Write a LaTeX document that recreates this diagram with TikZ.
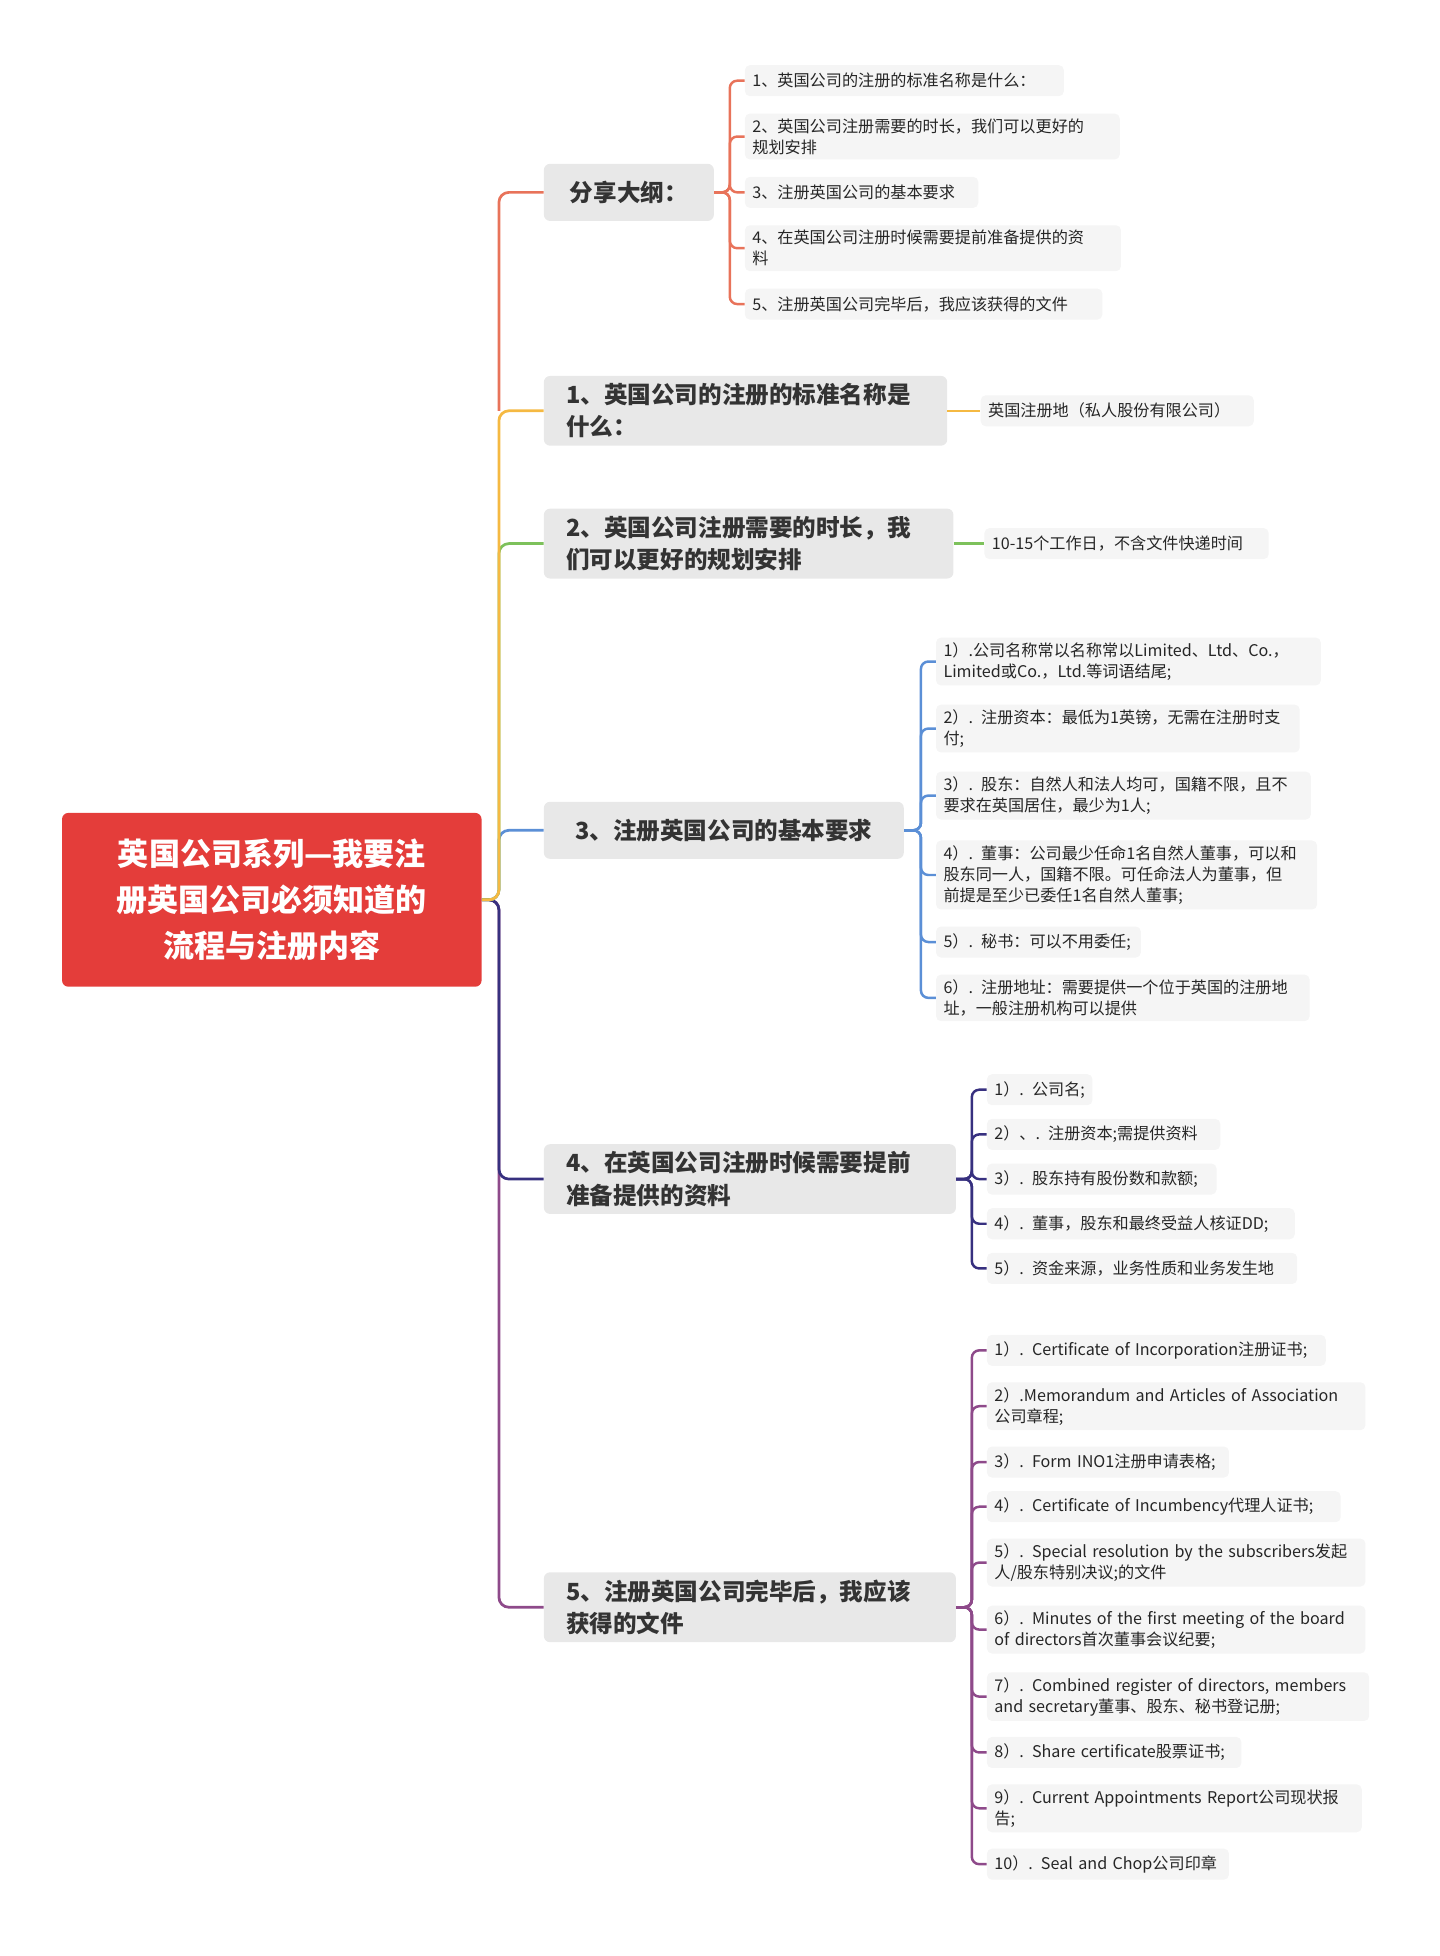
\documentclass[tikz,border=0pt]{standalone}
\usepackage{fontspec}
\setmainfont{Noto Sans CJK SC}
\begin{document}
\begin{tikzpicture}[x=1pt,y=-1pt,
 leaf/.style={anchor=west,fill=black!4,rounded corners=4,inner xsep=6,inner ysep=4,align=left,font=\fontsize{13}{17}\selectfont,text=black!85,minimum height=25},
 mainn/.style={anchor=west,fill=black!9,rounded corners=5,inner xsep=18,inner ysep=6,align=left,font=\fontsize{19}{26}\selectfont\bfseries,text=black!80,minimum height=46},
 conn/.style={line width=2.2,rounded corners=8},
 lconn/.style={line width=2,rounded corners=6}]
\useasboundingbox (0,0) rectangle (1160,1576);
\definecolor{cA}{HTML}{E8735A}\definecolor{cB}{HTML}{F5B942}\definecolor{cC}{HTML}{7DC15B}
\definecolor{cD}{HTML}{5B8FD6}\definecolor{cE}{HTML}{37307F}\definecolor{cF}{HTML}{8E4A8A}
\definecolor{cR}{HTML}{E43D3A}
% main nodes
\node[mainn,minimum width=137] (m1) at (438,155) {分享大纲：};
\node[mainn,text width=289] (m2) at (438,331) {1、英国公司的注册的标准名称是\\什么：};
\node[mainn,text width=294] (m3) at (438,438) {2、英国公司注册需要的时长，我\\们可以更好的规划安排};
\node[mainn,minimum width=290] (m4) at (438,669) {3、注册英国公司的基本要求};
\node[mainn,text width=296] (m5) at (438,950) {4、在英国公司注册时候需要提前\\准备提供的资料};
\node[mainn,text width=296] (m6) at (438,1295) {5、注册英国公司完毕后，我应该\\获得的文件};
\node[fill=cR,rounded corners=5,minimum width=338,minimum height=140,align=center,text=white,font=\fontsize{25}{37}\selectfont\bfseries] (root) at (219,725) {英国公司系列—我要注\\册英国公司必须知道的\\流程与注册内容};
% trunk
\draw[conn,cF] (root.east) -- (402,725) |- (m6.west);
\draw[conn,cE] (root.east) -- (402,725) |- (m5.west);
\draw[conn,cD] (root.east) -- (402,725) |- (m4.west);
\draw[conn,cC] (root.east) -- (402,725) |- (m3.west);
\draw[conn,cB] (root.east) -- (402,725) |- (m2.west);
\draw[conn,cA] (402,331) |- (m1.west);
% branch 1
\node[leaf,text width=245] (a1) at (600,65) {1、英国公司的注册的标准名称是什么：};
\node[leaf,text width=290] (a2) at (600,110) {2、英国公司注册需要的时长，我们可以更好的\\规划安排};
\node[leaf,text width=176] (a3) at (600,155) {3、注册英国公司的基本要求};
\node[leaf,text width=291] (a4) at (600,200) {4、在英国公司注册时候需要提前准备提供的资\\料};
\node[leaf,text width=276] (a5) at (600,245) {5、注册英国公司完毕后，我应该获得的文件};
\foreach \n in {a1,a2,a3,a4,a5} \draw[lconn,cA] (m1.east) -- (588,155) |- (\n.west);
% branch 2,3
\node[leaf,text width=208] (b1) at (790,331) {英国注册地（私人股份有限公司）};
\draw[lconn,cB] (m2.east) -- (b1.west);
\node[leaf,text width=217] (c1) at (793,438) {10-15个工作日，不含文件快递时间};
\draw[lconn,cC] (m3.east) -- (c1.west);
% branch 4
\node[leaf,text width=298] (d1) at (754,533) {1）.公司名称常以名称常以Limited、Ltd、Co.，\\Limited或Co.，Ltd.等词语结尾;};
\node[leaf,text width=281] (d2) at (754,587) {2）. 注册资本：最低为1英镑，无需在注册时支\\付;};
\node[leaf,text width=290] (d3) at (754,641) {3）. 股东：自然人和法人均可，国籍不限，且不\\要求在英国居住，最少为1人;};
\node[leaf,text width=295] (d4) at (754,705) {4）. 董事：公司最少任命1名自然人董事，可以和\\股东同一人，国籍不限。可任命法人为董事，但\\前提是至少已委任1名自然人董事;};
\node[leaf,text width=153] (d5) at (754,759) {5）. 秘书：可以不用委任;};
\node[leaf,text width=289] (d6) at (754,804) {6）. 注册地址：需要提供一个位于英国的注册地\\址，一般注册机构可以提供};
\foreach \n in {d1,d2,d3,d4,d5,d6} \draw[lconn,cD] (m4.east) -- (742,669) |- (\n.west);
% branch 5
\node[leaf,text width=73] (e1) at (795,878) {1）. 公司名;};
\node[leaf,text width=176] (e2) at (795,914) {2）、. 注册资本;需提供资料};
\node[leaf,text width=173] (e3) at (795,950) {3）. 股东持有股份数和款额;};
\node[leaf,text width=236] (e4) at (795,986) {4）. 董事，股东和最终受益人核证DD;};
\node[leaf,text width=238] (e5) at (795,1022) {5）. 资金来源，业务性质和业务发生地};
\foreach \n in {e1,e2,e3,e4,e5} \draw[lconn,cE] (m5.east) -- (783,950) |- (\n.west);
% branch 6
\node[leaf,text width=261] (f1) at (795,1088) {1）. Certificate of Incorporation注册证书;};
\node[leaf,text width=293] (f2) at (795,1133) {2）.Memorandum and Articles of Association\\公司章程;};
\node[leaf,text width=183] (f3) at (795,1178) {3）. Form INO1注册申请表格;};
\node[leaf,text width=273] (f4) at (795,1214) {4）. Certificate of Incumbency代理人证书;};
\node[leaf,text width=293] (f5) at (795,1259) {5）. Special resolution by the subscribers发起\\人/股东特别决议;的文件};
\node[leaf,text width=293] (f6) at (795,1313) {6）. Minutes of the first meeting of the board\\of directors首次董事会议纪要;};
\node[leaf,text width=296] (f7) at (795,1367) {7）. Combined register of directors, members\\and secretary董事、股东、秘书登记册;};
\node[leaf,text width=193] (f8) at (795,1412) {8）. Share certificate股票证书;};
\node[leaf,text width=290] (f9) at (795,1457) {9）. Current Appointments Report公司现状报\\告;};
\node[leaf,text width=183] (f10) at (795,1502) {10）. Seal and Chop公司印章};
\foreach \n in {f1,f2,f3,f4,f5,f6,f7,f8,f9,f10} \draw[lconn,cF] (m6.east) -- (783,1295) |- (\n.west);
\end{tikzpicture}
\end{document}
